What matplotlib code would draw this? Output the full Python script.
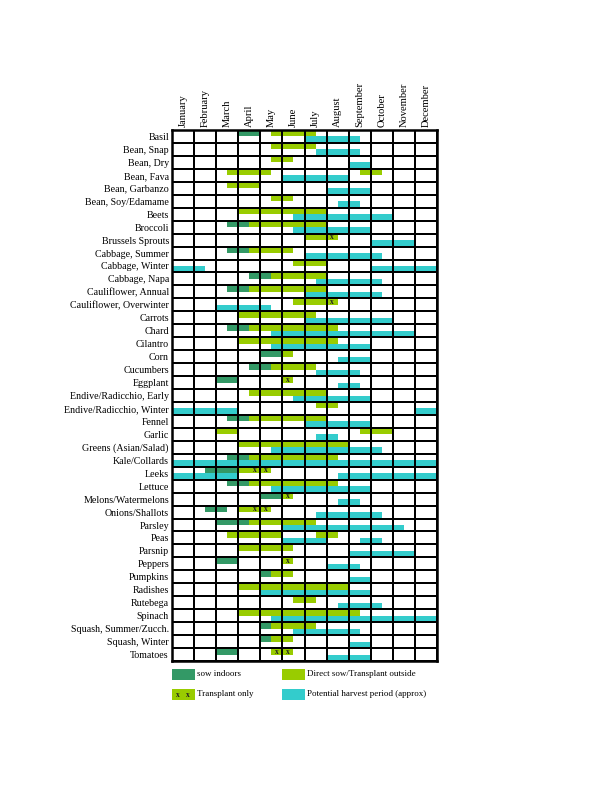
import matplotlib
matplotlib.use("Agg")
import matplotlib.pyplot as plt
from matplotlib.patches import Rectangle

OUTPUT_FILE = "out.png"

MONTHS = ["January", "February", "March", "April", "May", "June", "July",
          "August", "September", "October", "November", "December"]

CROPS = [
    "Basil", "Bean, Snap", "Bean, Dry", "Bean, Fava", "Bean, Garbanzo",
    "Bean, Soy/Edamame", "Beets", "Broccoli", "Brussels Sprouts",
    "Cabbage, Summer", "Cabbage, Winter", "Cabbage, Napa",
    "Cauliflower, Annual", "Cauliflower, Overwinter", "Carrots", "Chard",
    "Cilantro", "Corn", "Cucumbers", "Eggplant", "Endive/Radicchio, Early",
    "Endive/Radicchio, Winter", "Fennel", "Garlic", "Greens (Asian/Salad)",
    "Kale/Collards", "Leeks", "Lettuce", "Melons/Watermelons",
    "Onions/Shallots", "Parsley", "Peas", "Parsnip", "Peppers", "Pumpkins",
    "Radishes", "Rutebega", "Spinach", "Squash, Summer/Zucch.",
    "Squash, Winter", "Tomatoes",
]

# (crop, start month, end month) -- January = 0..1, half-month steps
SOW_INDOORS = [
    ("Basil", 3, 4), ("Broccoli", 2.5, 3.5), ("Cabbage, Summer", 2.5, 3.5),
    ("Cabbage, Napa", 3.5, 4.5), ("Cauliflower, Annual", 2.5, 3.5),
    ("Chard", 2.5, 3.5), ("Corn", 4, 5), ("Cucumbers", 3.5, 4.5),
    ("Eggplant", 2, 3), ("Fennel", 2.5, 3.5), ("Kale/Collards", 2.5, 3.5),
    ("Leeks", 1.5, 3), ("Lettuce", 2.5, 3.5), ("Melons/Watermelons", 4, 5),
    ("Onions/Shallots", 1.5, 2.5), ("Parsley", 2, 3.5), ("Peppers", 2, 3),
    ("Pumpkins", 4, 4.5), ("Squash, Summer/Zucch.", 4, 4.5),
    ("Squash, Winter", 4, 4.5), ("Tomatoes", 2, 3),
]

DIRECT_SOW = [
    ("Basil", 4.5, 6.5), ("Bean, Snap", 4.5, 6.5), ("Bean, Dry", 4.5, 5.5),
    ("Bean, Fava", 2.5, 4.5), ("Bean, Fava", 8.5, 9.5),
    ("Bean, Garbanzo", 2.5, 4), ("Bean, Soy/Edamame", 4.5, 5.5),
    ("Beets", 3, 7), ("Broccoli", 3.5, 7), ("Brussels Sprouts", 6, 7),
    ("Cabbage, Summer", 3.5, 5.5), ("Cabbage, Winter", 5.5, 7),
    ("Cabbage, Napa", 4.5, 7), ("Cauliflower, Annual", 3.5, 7),
    ("Cauliflower, Overwinter", 5.5, 7), ("Carrots", 3, 6.5),
    ("Chard", 3.5, 7.5), ("Cilantro", 3, 7.5), ("Corn", 5, 5.5),
    ("Cucumbers", 4.5, 6.5), ("Endive/Radicchio, Early", 3.5, 7),
    ("Endive/Radicchio, Winter", 6.5, 7.5), ("Fennel", 3.5, 7),
    ("Garlic", 2, 3), ("Garlic", 8.5, 10), ("Greens (Asian/Salad)", 3, 8),
    ("Kale/Collards", 3.5, 7.5), ("Leeks", 3, 3.5), ("Lettuce", 3.5, 7.5),
    ("Onions/Shallots", 3, 3.5), ("Parsley", 3.5, 6.5), ("Peas", 2.5, 5),
    ("Peas", 6.5, 7.5), ("Parsnip", 3, 5.5), ("Pumpkins", 4.5, 5.5),
    ("Radishes", 3, 8), ("Rutebega", 5.5, 6.5), ("Spinach", 3, 8.5),
    ("Squash, Summer/Zucch.", 4.5, 6.5), ("Squash, Winter", 4.5, 5.5),
]

TRANSPLANT_ONLY = [
    ("Brussels Sprouts", 7, 7.5), ("Cauliflower, Overwinter", 7, 7.5),
    ("Eggplant", 5, 5.5), ("Leeks", 3.5, 4.5),
    ("Melons/Watermelons", 5, 5.5), ("Onions/Shallots", 3.5, 4.5),
    ("Peppers", 5, 5.5), ("Tomatoes", 4.5, 5.5),
]

HARVEST = [
    ("Basil", 6, 8.5), ("Bean, Snap", 6.5, 8.5), ("Bean, Dry", 8, 9),
    ("Bean, Fava", 5, 8), ("Bean, Garbanzo", 7, 9),
    ("Bean, Soy/Edamame", 7.5, 8.5), ("Beets", 5.5, 10),
    ("Broccoli", 5.5, 9), ("Brussels Sprouts", 9, 11),
    ("Cabbage, Summer", 6, 9.5), ("Cabbage, Winter", 0, 1.5),
    ("Cabbage, Winter", 9, 12), ("Cabbage, Napa", 6.5, 9.5),
    ("Cauliflower, Annual", 6, 9.5), ("Cauliflower, Overwinter", 2, 4.5),
    ("Carrots", 6, 10), ("Chard", 4.5, 11), ("Cilantro", 4.5, 9),
    ("Corn", 7.5, 9), ("Cucumbers", 6.5, 8.5), ("Eggplant", 7.5, 8.5),
    ("Endive/Radicchio, Early", 5.5, 9), ("Endive/Radicchio, Winter", 0, 3),
    ("Endive/Radicchio, Winter", 11, 12), ("Fennel", 6, 9),
    ("Garlic", 6.5, 7.5), ("Greens (Asian/Salad)", 4.5, 9.5),
    ("Kale/Collards", 0, 12), ("Leeks", 0, 3), ("Leeks", 7.5, 12),
    ("Lettuce", 4.5, 9), ("Melons/Watermelons", 7.5, 8.5),
    ("Onions/Shallots", 6.5, 9.5), ("Parsley", 5, 10.5), ("Peas", 5, 7),
    ("Peas", 8.5, 9.5), ("Parsnip", 8, 11), ("Peppers", 7, 8.5),
    ("Pumpkins", 8, 9), ("Radishes", 4, 9), ("Rutebega", 7.5, 9.5),
    ("Spinach", 4.5, 12), ("Squash, Summer/Zucch.", 5.5, 8.5),
    ("Squash, Winter", 8, 9), ("Tomatoes", 7, 9),
]

COLORS = {
    "indoors": "#339966",
    "direct": "#99cc00",
    "harvest": "#33cccc",
}

FONT = ["Liberation Serif", "DejaVu Serif"]

plt.rcParams["font.family"] = FONT

W, H = 612, 792
fig = plt.figure(figsize=(W / 72, H / 72), dpi=72, facecolor="white")

# grid area in pixels
gx0, gx1, gy0, gy1 = 172, 437, 130, 661
ax = fig.add_axes([gx0 / W, 1 - gy1 / H, (gx1 - gx0) / W, (gy1 - gy0) / H])

row = {c: i for i, c in enumerate(CROPS)}


def draw(series, color, top):
    for crop, s, e in series:
        y = row[crop] + (0 if top else 0.5)
        ax.barh(y, e - s, left=s, height=0.5, align="edge",
                color=color, linewidth=0, zorder=2)


draw(SOW_INDOORS, COLORS["indoors"], True)
draw(DIRECT_SOW, COLORS["direct"], True)
draw(TRANSPLANT_ONLY, COLORS["direct"], True)
draw(HARVEST, COLORS["harvest"], False)

# x marks on the transplant-only cells
for crop, s, e in TRANSPLANT_ONLY:
    m = s
    while m < e:
        ax.text(m + 0.25, row[crop] + 0.27, "x", ha="center", va="center",
                fontsize=7.5, fontweight="bold", color="#222222", zorder=3)
        m += 0.5

ax.set_xlim(0, len(MONTHS))
ax.set_ylim(len(CROPS), 0)

ax.vlines(range(len(MONTHS) + 1), 0, len(CROPS), color="black",
          linewidth=2, zorder=4)
ax.hlines(range(len(CROPS) + 1), 0, len(MONTHS), color="black",
          linewidth=2, zorder=4)
for sp in ax.spines.values():
    sp.set_linewidth(2.5)
    sp.set_zorder(5)

ax.set_yticks([i + 0.5 for i in range(len(CROPS))])
ax.set_yticklabels(CROPS, fontsize=10)
ax.xaxis.tick_top()
ax.set_xticks([i + 0.5 for i in range(len(MONTHS))])
ax.set_xticklabels(MONTHS, rotation=90, fontsize=10.5, va="bottom")
ax.tick_params(length=0, pad=3)

# legend drawn in pixel coordinates
lg = fig.add_axes([0, 0, 1, 1], zorder=-1)
lg.set_xlim(0, W)
lg.set_ylim(H, 0)
lg.axis("off")

legend_items = [
    (172, 669, COLORS["indoors"], "sow indoors", False),
    (282, 669, COLORS["direct"], "Direct sow/Transplant outside", False),
    (172, 689, COLORS["direct"], "Transplant only", True),
    (282, 689, COLORS["harvest"], "Potential harvest period (approx)", False),
]
for x, y, col, label, marks in legend_items:
    lg.add_patch(Rectangle((x, y), 23, 11, facecolor=col, edgecolor="none"))
    if marks:
        lg.text(x + 6, y + 6, "x", ha="center", va="center", fontsize=7.5,
                fontweight="bold", color="#222222")
        lg.text(x + 16, y + 6, "x", ha="center", va="center", fontsize=7.5,
                fontweight="bold", color="#222222")
    lg.text(x + 25, y + 5.5, label, ha="left", va="center", fontsize=9)

fig.savefig(OUTPUT_FILE, dpi=72, facecolor="white")
plt.close(fig)
